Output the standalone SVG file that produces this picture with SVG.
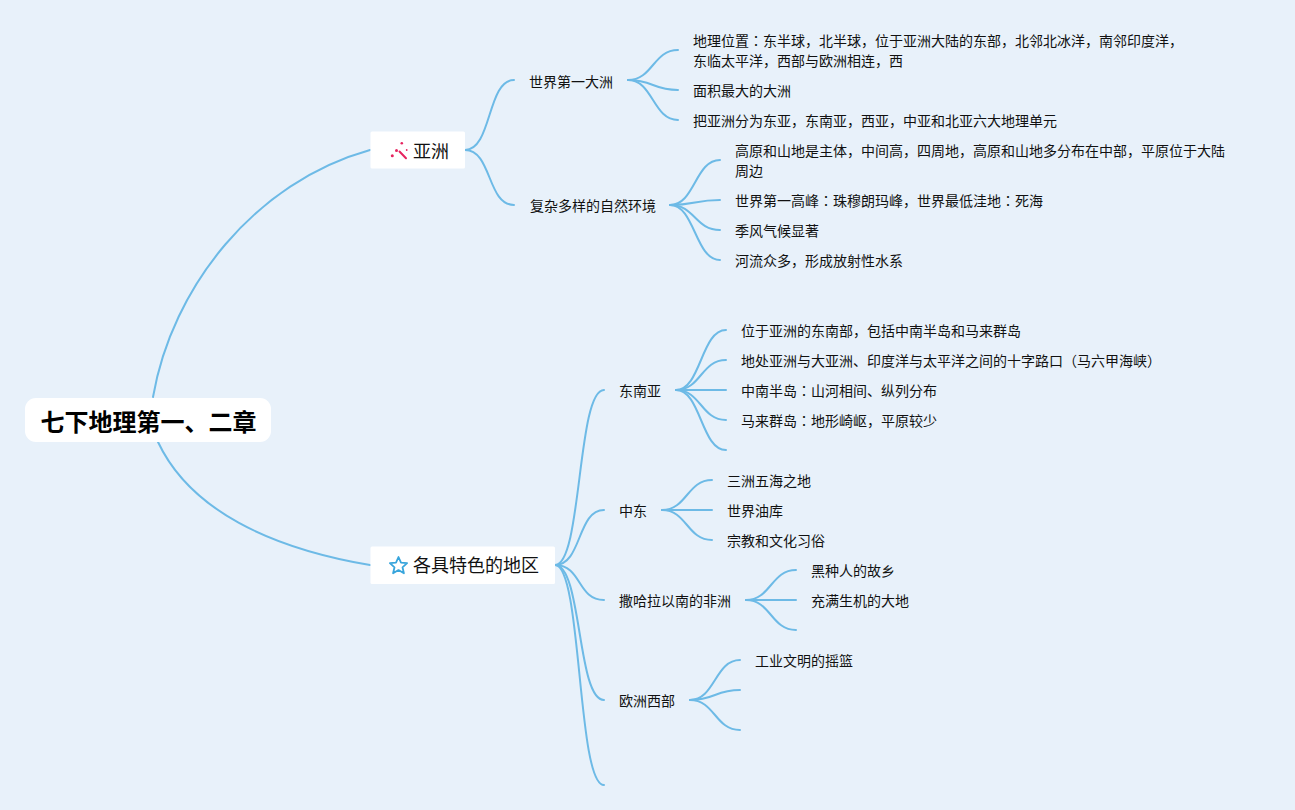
<svg xmlns="http://www.w3.org/2000/svg" width="1295" height="810" viewBox="0 0 1295 810">
<style>
text{font-family:"Noto Sans CJK SC","Noto Sans",sans-serif;fill:#111;font-size:14px}
.root{font-size:24px;font-weight:700;fill:#000}
.main{font-size:18px}
.box{fill:#fff}
.jp{font-family:"Noto Sans CJK JP","Noto Sans",sans-serif}
#connectors path{fill:none;stroke:#6dbae6;stroke-width:2;stroke-linecap:round}
</style>
<rect width="1295" height="810" fill="#e8f1fa"/>
<g id="connectors">
<path d="M153 397C172 287 255 182 370 150"/>
<path d="M158 442C190 510 270 548 370 565"/>
<path d="M465 150C492 150 487 80 514 80"/>
<path d="M465 150C492 150 487 205 514 205"/>
<path d="M628 80C653 80 653 50 678 50"/>
<path d="M628 80C653 80 653 90 678 90"/>
<path d="M628 80C653 80 653 120 678 120"/>
<path d="M670 205C695 205 695 160 720 160"/>
<path d="M670 205C695 205 695 200 720 200"/>
<path d="M670 205C695 205 695 230 720 230"/>
<path d="M670 205C695 205 695 260 720 260"/>
<path d="M555 565C582 565 577 390 604 390"/>
<path d="M555 565C582 565 577 510 604 510"/>
<path d="M555 565C582 565 577 600 604 600"/>
<path d="M555 565C582 565 577 700 604 700"/>
<path d="M555 565C582 565 577 785 604 785"/>
<path d="M676 390C701 390 701 330 726 330"/>
<path d="M676 390C701 390 701 360 726 360"/>
<path d="M676 390H726"/>
<path d="M676 390C701 390 701 420 726 420"/>
<path d="M676 390C701 390 701 450 726 450"/>
<path d="M662 510C687 510 687 480 712 480"/>
<path d="M662 510H712"/>
<path d="M662 510C687 510 687 540 712 540"/>
<path d="M746 600C771 600 771 570 796 570"/>
<path d="M746 600H796"/>
<path d="M746 600C771 600 771 630 796 630"/>
<path d="M690 700C715 700 715 660 740 660"/>
<path d="M690 700C715 700 715 690 740 690"/>
<path d="M690 700C715 700 715 730 740 730"/>
</g>
<g id="root"><rect class="box" x="25" y="398" width="246" height="44" rx="11"/><text class="root" x="40.500" y="430.500">七下地理第一、二章</text></g>
<g id="asia"><rect class="box" x="370.500" y="131.500" width="94.500" height="37" rx="1.500"/>
<path d="M399.500 151.500L406 158.300" fill="none" stroke="#e6245f" stroke-width="2" stroke-linecap="round"/>
<g fill="#e6245f"><circle cx="401.800" cy="143.300" r="1.300"/><circle cx="406.700" cy="150" r="0.900"/><circle cx="396.500" cy="150.500" r="1.500"/><circle cx="392.300" cy="155.800" r="1.500"/></g>
<text class="main" x="413" y="158">亚洲</text></g>
<g id="regions"><rect class="box" x="370.500" y="546.500" width="184.500" height="37.500" rx="1.500"/>
<path d="M398.500 557l2.500 5.600 6.100.6-4.600 4.100 1.400 6-5.400-3.200-5.400 3.200 1.400-6-4.600-4.100 6.100-.6z" fill="none" stroke="#38a5dc" stroke-width="1.800" stroke-linejoin="round"/>
<text class="main" x="413" y="572">各具特色的地区</text></g>
<g id="n1"><text x="529" y="87">世界第一大洲</text></g>
<g id="n2"><text x="530" y="211">复杂多样的自然环境</text></g>
<g id="n1a"><text x="693" y="46">地理位置<tspan class="jp">：</tspan>东半球，北半球，位于亚洲大陆的东部，北邻北冰洋，南邻印度洋，</text><text x="693" y="66">东临太平洋，西部与欧洲相连，西</text></g>
<g id="n1b"><text x="693" y="96">面积最大的大洲</text></g>
<g id="n1c"><text x="693" y="126">把亚洲分为东亚，东南亚，西亚，中亚和北亚六大地理单元</text></g>
<g id="n2a"><text x="735" y="156">高原和山地是主体，中间高，四周地，高原和山地多分布在中部，平原位于大陆</text><text x="735" y="176">周边</text></g>
<g id="n2b"><text x="735" y="206">世界第一高峰<tspan class="jp">：</tspan>珠穆朗玛峰，世界最低洼地<tspan class="jp">：</tspan>死海</text></g>
<g id="n2c"><text x="735" y="236">季风气候显著</text></g>
<g id="n2d"><text x="735" y="266">河流众多，形成放射性水系</text></g>
<g id="n3"><text x="619" y="396">东南亚</text></g>
<g id="n3a"><text x="741" y="336">位于亚洲的东南部，包括中南半岛和马来群岛</text></g>
<g id="n3b"><text x="741" y="366">地处亚洲与大亚洲、印度洋与太平洋之间的十字路口（马六甲海峡）</text></g>
<g id="n3c"><text x="741" y="396">中南半岛<tspan class="jp">：</tspan>山河相间、纵列分布</text></g>
<g id="n3d"><text x="741" y="426">马来群岛<tspan class="jp">：</tspan>地形崎岖，平原较少</text></g>
<g id="n4"><text x="619" y="516">中东</text></g>
<g id="n4a"><text x="727" y="486">三洲五海之地</text></g>
<g id="n4b"><text x="727" y="516">世界油库</text></g>
<g id="n4c"><text x="727" y="546">宗教和文化习俗</text></g>
<g id="n5"><text x="619" y="606">撒哈拉以南的非洲</text></g>
<g id="n5a"><text x="811" y="576">黑种人的故乡</text></g>
<g id="n5b"><text x="811" y="606">充满生机的大地</text></g>
<g id="n6"><text x="619" y="706">欧洲西部</text></g>
<g id="n6a"><text x="755" y="666">工业文明的摇篮</text></g>
</svg>
